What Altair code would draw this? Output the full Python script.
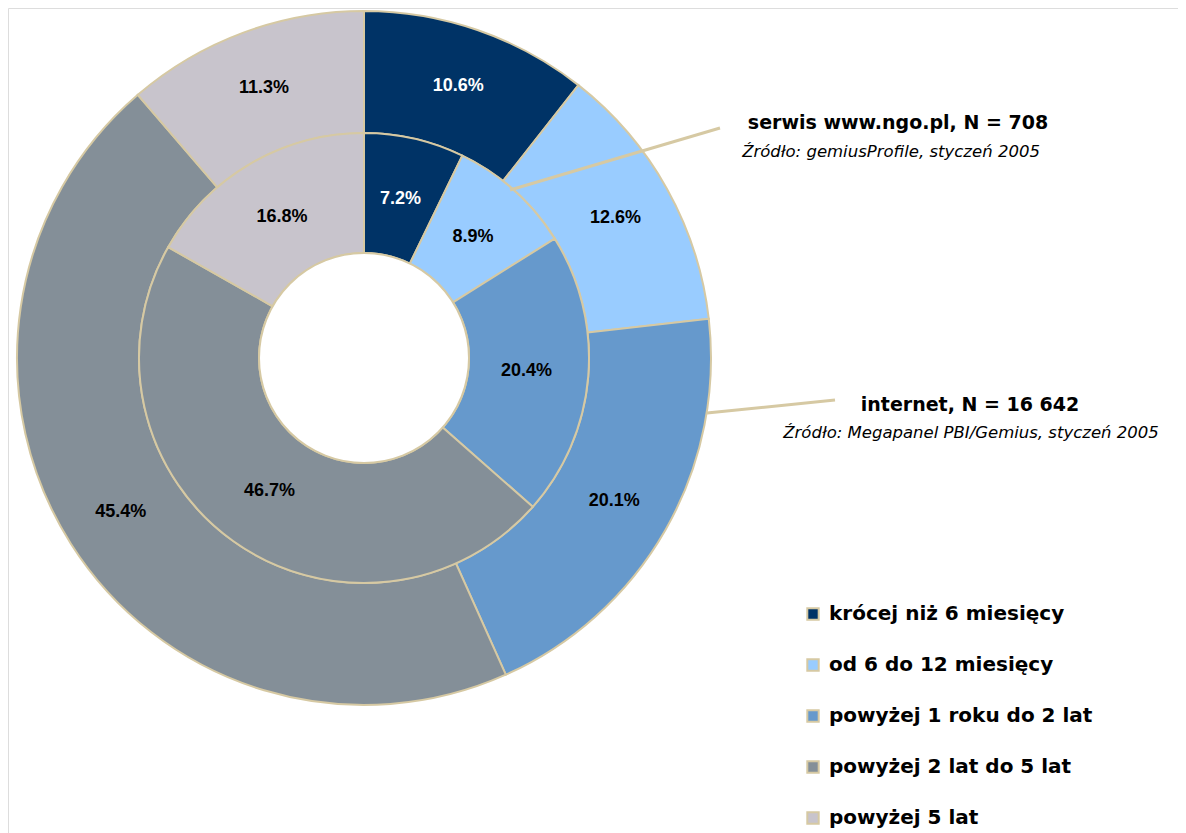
import altair as alt
import pandas as pd

categories = ["krócej niż 6 miesięcy", "od 6 do 12 miesięcy", "powyżej 1 roku do 2 lat",
              "powyżej 2 lat do 5 lat", "powyżej 5 lat"]
internet_values = [10.6, 12.6, 20.1, 45.4, 11.3]   # outer ring: internet, N = 16 642
ngo_values = [7.2, 8.9, 20.4, 46.7, 16.8]          # inner ring: serwis www.ngo.pl, N = 708
colors = ["#003366", "#99CCFF", "#6699CC", "#848F98", "#C8C4CC"]

rows = []
for i, c in enumerate(categories):
    rows.append({"ring": "internet", "cat": c, "order": i, "value": internet_values[i],
                 "label": f"{internet_values[i]:.1f}%"})
    rows.append({"ring": "ngo", "cat": c, "order": i, "value": ngo_values[i],
                 "label": f"{ngo_values[i]:.1f}%"})
df = pd.DataFrame(rows)

BORDER = "#D6C9A3"
CX, CY = 356, 350
R_OUT, R_MID, R_IN = 347, 225, 105
FONT = "Liberation Sans"
WIDE = "DejaVu Sans"

color_scale = alt.Scale(domain=categories, range=colors)

base = alt.Chart(df).encode(
    theta=alt.Theta("value:Q", stack=True),
    order=alt.Order("order:Q"),
    x=alt.value(CX), y=alt.value(CY),
)

legend = alt.Legend(
    title=None, orient="none", legendX=795, legendY=596,
    symbolType="square", symbolSize=130, symbolStrokeColor=BORDER, symbolStrokeWidth=2,
    labelFont=WIDE, labelFontSize=20, labelFontWeight="bold", labelColor="#000000",
    rowPadding=31, labelOffset=6, labelLimit=400,
)

outer = base.transform_filter(alt.datum.ring == "internet").mark_arc(
    radius=R_OUT, radius2=R_MID, stroke=BORDER, strokeWidth=2
).encode(color=alt.Color("cat:N", scale=color_scale, sort=categories, legend=legend))

inner = base.transform_filter(alt.datum.ring == "ngo").mark_arc(
    radius=R_MID, radius2=R_IN, stroke=BORDER, strokeWidth=2
).encode(color=alt.Color("cat:N", scale=color_scale, sort=categories, legend=None))

txt_color = alt.condition(alt.datum.order == 0, alt.value("white"), alt.value("black"))

outer_txt = base.transform_filter(alt.datum.ring == "internet").mark_text(
    radius=288, font=FONT, fontSize=18, fontWeight="bold"
).encode(text="label:N", color=txt_color)

inner_txt = base.transform_filter(alt.datum.ring == "ngo").mark_text(
    radius=163, font=FONT, fontSize=18, fontWeight="bold"
).encode(text="label:N", color=txt_color)

hole = alt.Chart(pd.DataFrame({"a": [1]})).mark_arc(
    radius=R_IN, fill="white", stroke=BORDER, strokeWidth=2
).encode(theta=alt.value(6.2832), x=alt.value(CX), y=alt.value(CY))

lines = pd.DataFrame({
    "x": [502, 699], "y": [182, 405], "x2": [712, 827], "y2": [120, 392],
})
rules = alt.Chart(lines).mark_rule(color=BORDER, strokeWidth=3).encode(
    x=alt.X("x:Q", scale=None), y=alt.Y("y:Q", scale=None),
    x2="x2:Q", y2="y2:Q",
)

notes = pd.DataFrame({
    "x": [890, 883, 962, 963],
    "y": [115, 144, 397, 425],
    "text": ["serwis www.ngo.pl, N = 708", "Źródło: gemiusProfile, styczeń 2005",
             "internet, N = 16 642", "Źródło: Megapanel PBI/Gemius, styczeń 2005"],
    "kind": ["title", "src", "title", "src"],
})
note_titles = alt.Chart(notes).transform_filter(alt.datum.kind == "title").mark_text(
    font=WIDE, fontSize=19, fontWeight="bold", color="black", align="center", baseline="middle"
).encode(x=alt.X("x:Q", scale=None), y=alt.Y("y:Q", scale=None), text="text:N")
note_src = alt.Chart(notes).transform_filter(alt.datum.kind == "src").mark_text(
    font=WIDE, fontSize=16.5, fontStyle="italic", color="black", align="center", baseline="middle"
).encode(x=alt.X("x:Q", scale=None), y=alt.Y("y:Q", scale=None), text="text:N")

chart = alt.layer(outer, inner, hole, outer_txt, inner_txt, rules, note_titles, note_src).properties(
    width=1170, height=825, padding=0, autosize=alt.AutoSizeParams(type="none")
).configure_view(strokeWidth=0).configure(background="white")

chart.save("out.html", embed_options={"renderer": "svg", "actions": False})
